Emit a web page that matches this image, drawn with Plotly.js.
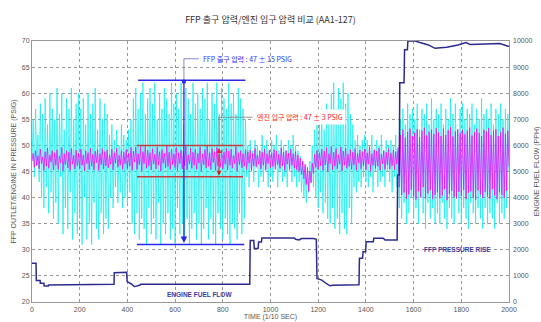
<!DOCTYPE html>
<html>
<head>
<meta charset="utf-8">
<script src="https://cdn.plot.ly/plotly-3.0.1.min.js"></script>
<style>html,body{margin:0;padding:0;background:#fff}#chart{width:541px;height:322px}</style>
</head>
<body>
<div id="chart"></div>
<script>
// FFP outlet pressure (PSIG), sampled every 5 (1/10 sec)
const ffpOutlet = [
47,55,44,57,46,52,43,58,40,56,38,59,42,54,37,60,41,57,36,55,
39,61,35,56,44,60,33,53,38,59,34,57,41,61,32,55,37,58,33,60,
36,57,31,59,40,54,32,60,35,56,31,58,39,61,34,53,32,59,37,55,
33,58,36,56,34,52,40,54,38,51,42,53,39,50,41,54,38,52,40,51,
39,53,41,55,35,59,33,61,37,57,32,60,36,62,34,56,31,59,38,61,
33,58,36,62,32,55,39,60,31,57,35,61,33,59,37,56,32,62,34,58,
31,60,38,57,33,62,35,54,32,61,36,59,31,56,34,62,37,58,32,60,
35,57,31,61,34,59,38,62,32,55,36,60,33,58,31,62,37,56,34,61,
32,59,36,57,33,62,31,58,35,60,34,56,32,61,37,59,33,57,36,55,
44,50,42,51,45,49,43,51,46,50,42,49,44,52,43,50,45,51,42,49,
44,51,43,50,46,52,42,49,45,51,43,50,44,49,42,51,45,50,43,52,
44,50,42,49,43,48,41,47,40,46,39,45,41,47,43,50,42,53,40,54,
38,55,41,57,37,53,39,58,36,56,35,60,38,62,34,57,36,61,33,59,
37,62,34,58,33,60,38,56,35,54,42,51,41,52,43,50,42,51,44,52,
43,51,42,50,44,52,41,49,45,51,42,50,43,52,44,49,42,51,45,50,
43,51,41,50,44,52,42,49,38,55,36,57,39,54,35,58,37,56,40,57,
36,55,38,58,35,53,40,57,37,56,34,58,39,54,36,59,38,55,35,57,
37,56,35,58,39,54,36,57,34,55,38,59,36,56,35,58,40,53,37,57,
35,58,38,55,36,57,34,56,39,58,37,54,35,57,38,55,36,59,34,56,
38,57,35,55,37,58,36,54,34,57,39,56,35,58,37,55,36,57,38,56,
45];

// Engine inlet pressure (PSIG), sampled every 5
const engInlet = [
47,48.5,45.8,49,46.2,48,45.5,49.3,46.5,47.8,45.2,48.8,46,49.5,45.6,48.2,46.8,49,45.3,48.6,
46.2,49.2,45.4,48,46.6,49.6,45.1,48.4,46.3,49,45.7,48.7,45.2,49.4,46.4,48.1,45.5,49.1,46.1,48.5,
45.6,49.3,46.2,48.2,45.1,49,46.5,48.6,45.4,49.5,46,48.3,45.3,48.9,46.7,49.2,45.2,48.4,46.3,49.4,
45.5,48.8,46.1,49.1,45.7,48.2,46.4,49.3,45.3,48.6,46.6,49.5,45.8,48.1,46.2,49,45.4,48.7,46.5,49.2,
45.6,48.5,46,49.6,45.2,48.9,46.8,49.7,45.4,48.4,46.3,49.8,45.1,48.8,46.5,50,45.6,49.1,46.1,48.6,
45.3,49.4,46.4,48.3,45.5,49.7,46.2,48.8,45.1,49.2,46.6,48.5,45.7,49.9,46,48.7,45.4,49.3,46.3,48.4,
45.8,49.6,45.2,48.6,46.5,49.1,45.5,48.9,46.1,49.8,45.3,48.2,46.4,49.5,45.6,48.7,46.2,49.3,45.4,48.5,
46.6,49.7,45.1,48.4,46.3,49.2,45.7,49.9,46,48.6,45.4,49.4,46.7,48.8,45.2,49.6,46.1,48.3,45.8,49.1,
45.5,48.7,46.4,49.5,45.3,48.9,46.2,49.3,45.6,48.1,46.5,49.8,45.1,48.6,46.3,49,45.7,48.4,46,49.2,
45.4,48.8,46.6,49.1,45.2,48.5,46.1,49.4,45.8,48.2,46.4,49,45.5,48.7,46.2,49.3,45.3,48.4,46.5,49.1,
45.7,48.6,46,49.2,45.4,48.9,46.3,48.3,45.6,49.5,46.1,48.7,45.2,49,46.4,48.5,45.5,49.3,46.2,48.4,
45.6,48.8,45.3,48.2,45.0,47.6,44.4,47.0,43.6,46.4,42.5,45.8,41.2,45.0,42.8,46.6,44.6,48.3,45.8,49.0,
45.4,48.6,46.1,49.3,45.2,48.9,46.3,49.6,45.0,48.4,46.5,49.8,45.3,48.7,46.0,49.4,45.5,48.2,46.4,49.7,
45.1,48.9,46.2,49.5,45.6,48.3,46.0,49.2,45.4,48.7,46.3,49.4,45.2,48.5,46.6,49.1,45.5,48.8,46.1,49.3,
45.3,48.6,46.4,49.7,45.0,48.4,46.2,49.2,45.6,48.9,46.0,49.5,45.2,48.3,46.5,49.0,45.4,48.7,46.3,49.4,
45.5,48.5,46.1,49.1,45.3,48.8,46.4,49.6,42,52,40.5,53,41,51.5,39.8,52.6,40.6,53.2,41.5,51.8,
40.2,52.4,39.6,53.1,41.2,51.6,40.0,52.8,42.0,53.4,39.8,51.9,40.8,52.6,41.4,53.0,39.7,52.2,40.5,53.3,
41.0,52.5,39.9,51.8,40.4,53.2,41.6,52.0,39.5,52.9,40.7,53.5,41.3,51.7,40.1,52.7,39.8,53.1,41.1,52.3,
40.3,53.0,41.5,52.1,39.7,52.8,40.9,53.4,41.2,51.9,40.0,52.6,39.6,53.2,41.4,52.4,40.6,51.8,39.9,53.0,
41.1,52.7,40.2,53.3,39.8,52.0,41.6,52.9,40.4,53.1,39.7,51.8,41.0,52.5,40.5,53.4,39.9,52.2,41.3,52.8,
46];

// Engine fuel flow (PPH)
const flowTime = [0,17,18,34,35,50,51,68,69,200,344,345,397,399,415,429,431,453,455,913,915,930,932,948,950,962,964,1100,1105,1120,1130,1180,1190,1192,1195,1215,1235,1250,1260,1371,1373,1386,1388,1399,1401,1431,1433,1473,1480,1531,1533,1540,1542,1560,1562,1574,1576,1606,1627,1662,1690,1739,1786,1820,1837,1962,1996,2000];
const flowPPH  = [1480,1480,820,820,720,720,615,615,650,670,680,1120,1140,780,700,590,590,650,680,680,2360,2360,2050,2050,2300,2300,2450,2450,2400,2380,2430,2430,2400,2400,900,840,700,620,640,660,1680,1680,1930,1930,2310,2310,2440,2440,2380,2380,4870,4870,8400,8400,9660,9660,10000,10000,9940,9850,9720,9760,9850,9940,9870,9900,9800,9800];

const sampleStep = 5;
const time = ffpOutlet.map((_, i) => i * sampleStep);

const titleText = 'FFP 출구 압력/엔진 입구 압력 비교 (AA1-127)';
const ffpLabel = 'FFP 출구 압력 : 47 ± 15 PSIG';
const engLabel = '엔진 입구 압력 : 47 ± 3 PSIG';

const navy = '#2b2b8f';
const tickFont = {family: 'Liberation Sans, Arial, sans-serif', size: 7, color: '#555'};
const axTitleFont = {family: 'Liberation Sans, Arial, sans-serif', size: 7, color: '#555'};

const traces = [
  {x: time, y: ffpOutlet, type: 'scatter', mode: 'lines', line: {color: 'rgba(20,238,238,0.85)', width: 0.9}, hoverinfo: 'skip'},
  {x: time, y: engInlet, type: 'scatter', mode: 'lines', line: {color: '#ff00ff', width: 1}, opacity: 0.75, hoverinfo: 'skip'},
  {x: flowTime, y: flowPPH, yaxis: 'y2', type: 'scatter', mode: 'lines', line: {color: navy, width: 1.5}, hoverinfo: 'skip'}
];

const blueTop = 62.5, blueBot = 31, redTop = 50, redBot = 44;
const blueX = 637, redX = 784;

const layout = {
  width: 541, height: 322,
  margin: {l: 32, r: 32, t: 41, b: 20},
  paper_bgcolor: '#fff', plot_bgcolor: '#fff',
  showlegend: false,
  title: {text: titleText, x: 0.5, xref: 'paper', y: 1 - 20/322, yanchor: 'middle',
          font: {family: 'Noto Sans CJK KR, sans-serif', size: 9, color: '#333'}},
  xaxis: {range: [0, 2000], dtick: 200, tick0: 0, showgrid: true, griddash: 'dot', gridcolor: '#999', gridwidth: 1,
          showline: true, linecolor: '#999', linewidth: 1, mirror: true, zeroline: false, ticks: '',
          tickfont: tickFont, automargin: false, ticklabelstandoff: 1,
          title: {text: 'TIME (1/10 SEC)', font: axTitleFont, standoff: 0}},
  yaxis: {range: [20, 70], dtick: 5, tick0: 20, showgrid: true, griddash: 'dot', gridcolor: '#999', gridwidth: 1,
          showline: true, linecolor: '#999', linewidth: 1, mirror: true, zeroline: false, ticks: '',
          tickfont: tickFont, automargin: false,
          title: {text: 'FFP OUTLET/ENGINE IN PRESSURE (PSIG)', font: axTitleFont, standoff: 4}},
  yaxis2: {range: [0, 10000], dtick: 1000, tick0: 0, overlaying: 'y', side: 'right', showgrid: false,
           zeroline: false, showline: false, ticks: '', tickformat: 'd', tickfont: tickFont, automargin: false,
           ticklabelstandoff: 3,
           title: {text: 'ENGINE FUEL FLOW (PPH)', font: axTitleFont, standoff: 4}},
  shapes: [
    {type: 'line', xref: 'x', yref: 'y', x0: 445, x1: 895, y0: blueTop, y1: blueTop, line: {color: '#2828e6', width: 1.5}},
    {type: 'line', xref: 'x', yref: 'y', x0: 440, x1: 890, y0: blueBot, y1: blueBot, line: {color: '#2828e6', width: 1.5}},
    {type: 'line', xref: 'x', yref: 'y', x0: 440, x1: 885, y0: redTop, y1: redTop, line: {color: '#c83c3c', width: 1.5}},
    {type: 'line', xref: 'x', yref: 'y', x0: 440, x1: 885, y0: redBot, y1: redBot, line: {color: '#c83c3c', width: 1.5}},
    {type: 'path', xref: 'x', yref: 'y', path: `M ${blueX},${blueTop} L ${blueX},66.6 L 700,66.6`, line: {color: '#6b6bb0', width: 0.8}},
    {type: 'path', xref: 'x', yref: 'y', path: `M ${redX},${redTop} L ${redX},55.4 L 925,55.4`, line: {color: '#777', width: 0.8}}
  ],
  annotations: [
    {xref: 'x', yref: 'y', axref: 'x', ayref: 'y', x: blueX, y: blueBot + 0.3, ax: blueX, ay: blueTop, text: '',
     showarrow: true, arrowside: 'end+start', arrowhead: 2, startarrowhead: 6, arrowsize: 1, startarrowsize: 0.8,
     arrowwidth: 1.3, arrowcolor: '#2828e6', standoff: 0, startstandoff: 0},
    {xref: 'x', yref: 'y', axref: 'x', ayref: 'y', x: redX, y: redBot + 0.2, ax: redX, ay: redTop - 0.2, text: '',
     showarrow: true, arrowside: 'end+start', arrowhead: 2, startarrowhead: 2, arrowsize: 1, startarrowsize: 1,
     arrowwidth: 1, arrowcolor: '#e02020', standoff: 0, startstandoff: 0},
    {xref: 'x', yref: 'y', x: 710, y: 66.6, xanchor: 'left', yanchor: 'middle', showarrow: false, text: ffpLabel,
     font: {family: 'Noto Sans CJK KR, sans-serif', size: 7, color: '#3030ff'}},
    {xref: 'x', yref: 'y', x: 930, y: 55.4, xanchor: 'left', yanchor: 'middle', showarrow: false, text: engLabel,
     bgcolor: '#ffffff', borderpad: 2,
     font: {family: 'Noto Sans CJK KR, sans-serif', size: 7, color: '#ff2020'}},
    {xref: 'x', yref: 'y', x: 704, y: 21.4, xanchor: 'center', yanchor: 'middle', showarrow: false, text: '<b>ENGINE FUEL FLOW</b>',
     font: {family: 'Liberation Sans, Arial, sans-serif', size: 6.5, color: '#3a3aa0'}},
    {xref: 'x', yref: 'y', x: 1782, y: 30.0, xanchor: 'center', yanchor: 'middle', showarrow: false, text: '<b>FFP PRESSURE RISE</b>',
     font: {family: 'Liberation Sans, Arial, sans-serif', size: 6.5, color: '#3a3aa0'}}
  ]
};

Plotly.newPlot('chart', traces, layout, {displayModeBar: false, staticPlot: true});
</script>
</body>
</html>
